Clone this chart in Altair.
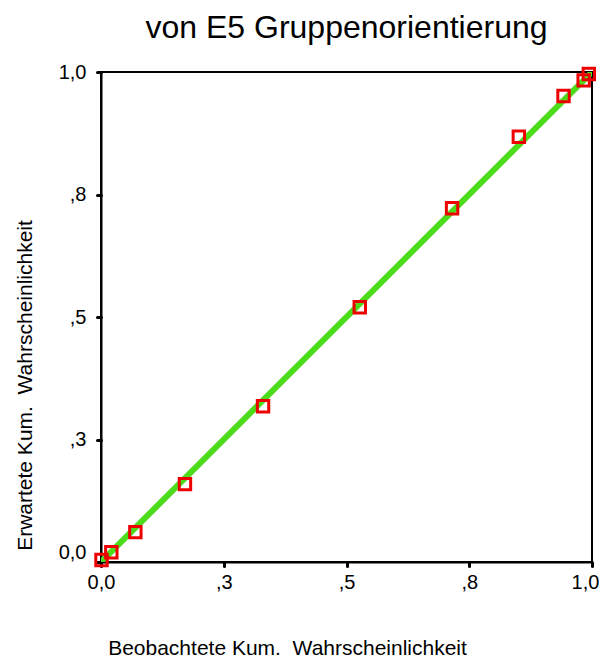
import altair as alt
import pandas as pd

obs = [0.001, 0.021, 0.070, 0.171, 0.330, 0.527, 0.715, 0.851, 0.942, 0.983, 0.9935]
exp = [0.004, 0.020, 0.061, 0.159, 0.318, 0.520, 0.722, 0.868, 0.951, 0.983, 0.996]

diag_x = [0.0, 1.0]
diag_y = [0.0, 1.0]

tick_vals = [0.0, 0.25, 0.5, 0.75, 1.0]
tick_labels = ["0,0", ",3", ",5", ",8", "1,0"]

pts = pd.DataFrame({"obs": obs, "exp": exp})
diag = pd.DataFrame({"x": diag_x, "y": diag_y})

label_expr = " : ".join(
    [f"datum.value == {v} ? '{l}'" for v, l in zip(tick_vals, tick_labels)]
) + " : ''"

FONT = "Liberation Sans"

x_axis = alt.Axis(
    values=tick_vals, labelExpr=label_expr, grid=False,
    domainColor="black", domainWidth=2,
    tickColor="black", tickSize=4, tickWidth=3, tickCap="round",
    labelFontSize=20, labelFont=FONT, labelColor="black", labelPadding=6,
    labelFlush=False, labelOverlap=False,
    labelOffset=alt.condition("datum.value == 1", alt.value(-7), alt.value(0)),
    title="Beobachtete Kum.\u00a0 Wahrscheinlichkeit",
    titleFont=FONT, titleFontSize=21, titleFontWeight="normal", titleColor="black",
    titleX=186, titleY=92, titleAlign="center", titleBaseline="alphabetic",
)
y_axis = alt.Axis(
    values=tick_vals, labelExpr=label_expr, grid=False,
    domainColor="black", domainWidth=2,
    tickColor="black", tickSize=4, tickWidth=3, tickCap="round",
    labelFontSize=20, labelFont=FONT, labelColor="black", labelPadding=11,
    labelFlush=False, labelOverlap=False,
    labelBaseline=alt.condition("datum.value == 0", alt.value("bottom"), alt.value("middle")),
    title="Erwartete Kum.\u00a0 Wahrscheinlichkeit",
    titleFont=FONT, titleFontSize=21, titleFontWeight="normal", titleColor="black",
    titleAngle=270, titleX=-70, titleY=313, titleAlign="center", titleBaseline="alphabetic",
)

xs = alt.Scale(domain=[0, 1], nice=False, zero=False)
ys = alt.Scale(domain=[0, 1], nice=False, zero=False)

line = alt.Chart(diag).mark_line(color="#4ddc1c", strokeWidth=6, clip=True).encode(
    x=alt.X("x:Q", scale=xs, axis=x_axis),
    y=alt.Y("y:Q", scale=ys, axis=y_axis),
)

points = alt.Chart(pts).mark_point(
    shape="square", filled=False, color="#ee0000", size=130, strokeWidth=3, opacity=1
).encode(
    x=alt.X("obs:Q", scale=xs),
    y=alt.Y("exp:Q", scale=ys),
)

chart = alt.layer(line, points).properties(
    width=491, height=490,
    background="white",
    title=alt.TitleParams(
        "von E5 Gruppenorientierung", font=FONT, fontSize=32, fontWeight="normal",
        color="black", baseline="bottom", offset=24, dy=39, anchor="middle", frame="group",
    ),
    autosize=alt.AutoSizeParams(type="none"),
    padding={"left": 93, "top": 64, "right": 7, "bottom": 100},
).configure_view(stroke="black", strokeWidth=2)

chart.save("out.html", embed_options={"renderer": "svg", "actions": False})
